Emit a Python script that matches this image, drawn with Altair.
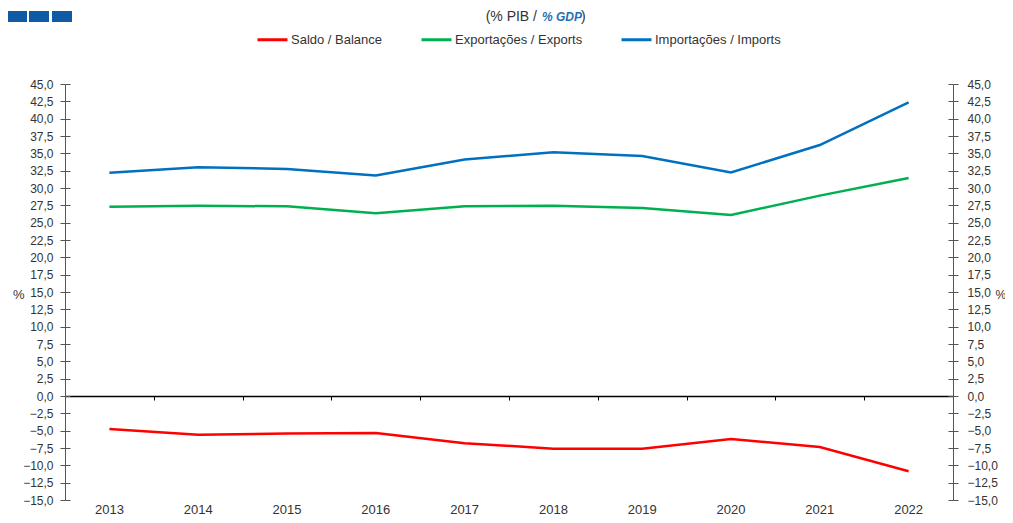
import altair as alt
import pandas as pd

years = ["2013", "2014", "2015", "2016", "2017", "2018", "2019", "2020", "2021", "2022"]
saldo = [-4.75, -5.6, -5.4, -5.35, -6.8, -7.6, -7.6, -6.2, -7.35, -10.85]
exportacoes = [27.3, 27.45, 27.35, 26.35, 27.35, 27.45, 27.1, 26.1, 28.9, 31.45]
importacoes = [32.2, 33.0, 32.75, 31.8, 34.1, 35.15, 34.6, 32.25, 36.2, 42.35]

series_names = ["Saldo / Balance", "Exportações / Exports", "Importações / Imports"]
series_colors = ["#ff0000", "#00b050", "#0070c0"]
y_ticks = [-15.0, -12.5, -10.0, -7.5, -5.0, -2.5, 0.0, 2.5, 5.0, 7.5, 10.0, 12.5, 15.0,
           17.5, 20.0, 22.5, 25.0, 27.5, 30.0, 32.5, 35.0, 37.5, 40.0, 42.5, 45.0]

rows = []
for name, vals in zip(series_names, [saldo, exportacoes, importacoes]):
    for yr, v in zip(years, vals):
        rows.append({"ano": yr, "serie": name, "valor": v})
df = pd.DataFrame(rows)

FONT = "Liberation Sans"
TXT = "#333333"
AX = "#555555"
W, H = 888, 416

x_scale = alt.Scale(domain=years, paddingInner=0, paddingOuter=0)
y_scale = alt.Scale(domain=[-15, 45], nice=False, zero=False)
label_expr = "replace(format(datum.value, '.1f'), '.', ',')"

base = alt.Chart(df)

lines = base.mark_line(strokeWidth=2.5).encode(
    x=alt.X("ano:N", scale=x_scale, sort=years,
            axis=alt.Axis(orient="bottom", offset=-104, labels=False, title=None,
                          domain=True, domainColor="#000000", domainWidth=1.5,
                          ticks=True, tickColor="#000000", tickSize=4, tickBand="extent",
                          grid=False)),
    y=alt.Y("valor:Q", scale=y_scale,
            axis=alt.Axis(orient="left", values=y_ticks, labelExpr=label_expr,
                          labelFont=FONT, labelFontSize=12, labelColor=TXT, labelPadding=7,
                          domainColor=AX, tickColor=AX, tickSize=5, grid=False,
                          title="%", titleAngle=0, titleFont=FONT, titleFontSize=13,
                          titleFontWeight="normal", titleColor=TXT, titleAlign="right",
                          titleBaseline="middle", titleX=-41, titleY=210)),
    color=alt.Color("serie:N", scale=alt.Scale(domain=series_names, range=series_colors),
                    legend=alt.Legend(orient="none", legendX=191, legendY=-61,
                                      direction="horizontal", title=None,
                                      symbolType="stroke", symbolSize=900,
                                      symbolStrokeWidth=3, labelFont=FONT,
                                      labelFontSize=13, labelColor=TXT, labelOffset=2,
                                      columnPadding=32)),
)

layer2 = base.mark_line(strokeOpacity=0).encode(
    x=alt.X("ano:N", scale=x_scale, sort=years,
            axis=alt.Axis(orient="bottom", domain=False, ticks=False, labelPadding=3,
                          labelFont=FONT, labelFontSize=13, labelColor=TXT, labelAngle=0,
                          title=None, grid=False)),
    y=alt.Y("valor:Q", scale=y_scale,
            axis=alt.Axis(orient="right", values=y_ticks, labelExpr=label_expr,
                          labelFont=FONT, labelFontSize=12, labelColor=TXT, labelPadding=9,
                          domainColor=AX, tickColor=AX, tickSize=5, grid=False,
                          title="%", titleAngle=0, titleFont=FONT, titleFontSize=12,
                          titleFontWeight="normal", titleColor=TXT, titleAlign="left",
                          titleBaseline="middle", titleX=42, titleY=210)),
    detail="serie:N",
)

layer3 = base.mark_line(strokeOpacity=0).encode(
    x=alt.X("ano:N", scale=x_scale, sort=years, axis=None),
    y=alt.Y("valor:Q", scale=y_scale,
            axis=alt.Axis(orient="left", values=y_ticks, labels=False, domain=False,
                          offset=-5, tickSize=5, tickColor=AX, title=None, grid=False)),
    detail="serie:N",
)

layer4 = base.mark_line(strokeOpacity=0).encode(
    x=alt.X("ano:N", scale=x_scale, sort=years, axis=None),
    y=alt.Y("valor:Q", scale=y_scale,
            axis=alt.Axis(orient="right", values=y_ticks, labels=False, domain=False,
                          offset=-5, tickSize=5, tickColor=AX, title=None, grid=False)),
    detail="serie:N",
)

SQ = "#0f5aa5"
deco = alt.Chart(pd.DataFrame({"k": [0]}))
sq1 = deco.mark_rect(color=SQ).encode(x=alt.value(-59), x2=alt.value(-38), y=alt.value(-73), y2=alt.value(-62))
sq2 = deco.mark_rect(color=SQ).encode(x=alt.value(-36), x2=alt.value(-16), y=alt.value(-73), y2=alt.value(-62))
sq3 = deco.mark_rect(color=SQ).encode(x=alt.value(-13), x2=alt.value(7), y=alt.value(-73), y2=alt.value(-62))

sub1 = deco.mark_text(align="right", baseline="middle", font=FONT, fontSize=14, color=TXT).encode(
    x=alt.value(472), y=alt.value(-67), text=alt.value("(% PIB /"))
sub2 = deco.mark_text(align="left", baseline="middle", font=FONT, fontSize=12, color="#1f6fb5",
                      fontWeight="bold", fontStyle="italic").encode(
    x=alt.value(477), y=alt.value(-67), text=alt.value("% GDP"))
sub3 = deco.mark_text(align="left", baseline="middle", font=FONT, fontSize=14, color=TXT).encode(
    x=alt.value(516), y=alt.value(-67), text=alt.value(")"))

chart = alt.layer(lines, layer2, layer3, layer4, sq1, sq2, sq3, sub1, sub2, sub3).resolve_axis(
    x="independent", y="independent"
).properties(
    width=W, height=H, autosize=alt.AutoSizeParams(type="none"),
    padding={"left": 57, "top": 76, "right": 52, "bottom": 15},
    background="white",
).configure_view(stroke=None)

chart.save("out.html", embed_options={"renderer": "svg", "actions": False})
